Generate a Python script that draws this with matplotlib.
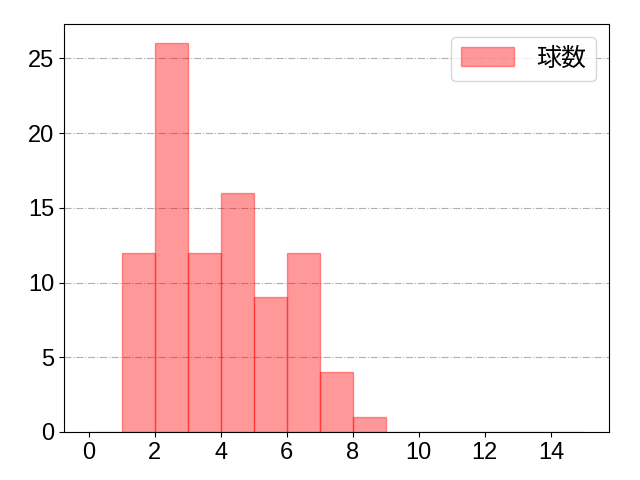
import numpy as np
import matplotlib
matplotlib.use('Agg')
import matplotlib.pyplot as plt

plt.rcParams['font.family'] = ['Liberation Sans', 'Noto Sans CJK JP', 'DejaVu Sans']

# histogram bins (left edges) and counts
bin_left = np.arange(0, 15)
counts = [0, 12, 26, 12, 16, 9, 12, 4, 1, 0, 0, 0, 0, 0, 0]
label = '球数'

fig, ax = plt.subplots(figsize=(6.4, 4.8), dpi=100)
fig.subplots_adjust(left=0.1, right=0.951, top=0.95, bottom=0.1)
ax.grid(axis='y', linestyle='-.', color='#b0b0b0', linewidth=0.8)
ax.set_axisbelow(True)
ax.hist(bin_left, bins=np.arange(0, 16), weights=counts,
        color='red', alpha=0.4, edgecolor='red', linewidth=1.0, label=label)
ax.set_xticks(np.arange(0, 15, 2))
ax.tick_params(labelsize=17)
ax.legend(fontsize=18, loc='upper right', handlelength=2.1, handleheight=0.8,
          handletextpad=0.9)
fig.savefig('out.png')
